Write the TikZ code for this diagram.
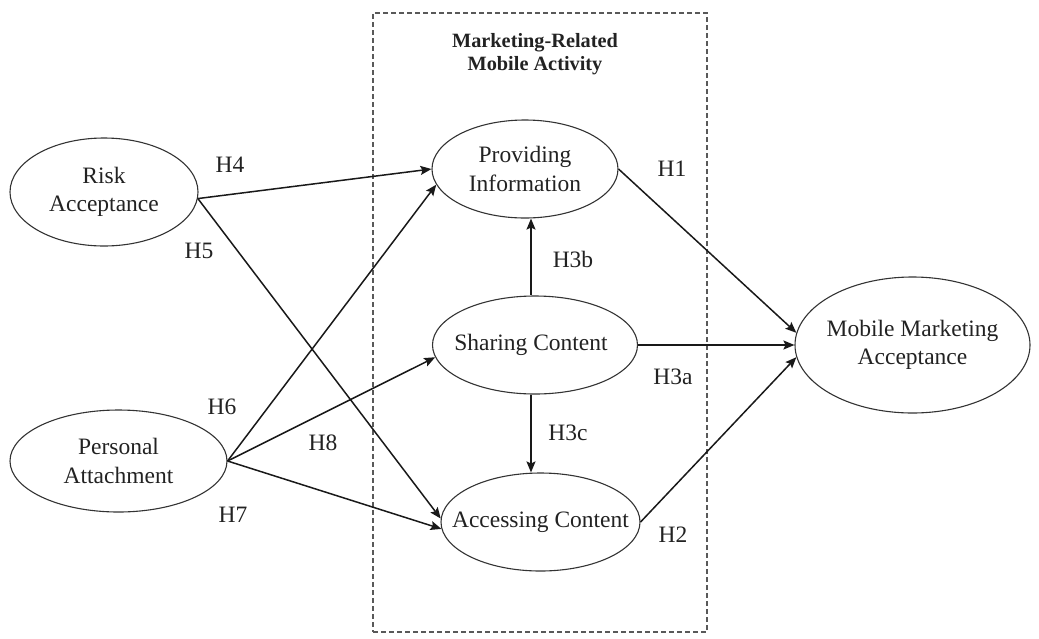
\documentclass[tikz,border=0pt]{standalone}
\usepackage{fontspec}
\setmainfont{Liberation Serif}
\usetikzlibrary{shapes.geometric,arrows.meta,calc}
\definecolor{ink}{HTML}{222222}
\definecolor{edge}{HTML}{333333}
\begin{document}
\begin{tikzpicture}[x=1pt,y=-1pt,
  ell/.style={draw=edge, line width=1.1pt, ellipse, inner sep=0pt},
  txt/.style={text=ink, align=center, font=\fontsize{23.5}{28.5}\selectfont, inner sep=0pt},
  hyp/.style={text=ink, font=\fontsize{23.5}{28}\selectfont, inner sep=0pt},
  ttl/.style={text=ink, align=center, font=\fontsize{20.3}{23}\selectfont\bfseries, inner sep=0pt},
  arr/.style={line width=1.5pt, draw=black!90, -{Stealth[length=11pt,width=9pt,inset=2pt]}},
  grpbox/.style={draw=black!65, line width=1.3pt, dash pattern=on 5pt off 3pt, inner sep=0pt}]
\useasboundingbox (0,0) rectangle (1039,638);

% dashed group box
\node[grpbox, minimum width=334pt, minimum height=619pt] (group) at (540,322.5) {};
\node[ttl] (title) at (535,54) {Marketing-Related\\Mobile Activity};

% ellipses
\node[ell, minimum width=188pt, minimum height=108pt] (risk) at (104,192) {};
\node[ell, minimum width=217pt, minimum height=102pt] (pers) at (118.5,461) {};
\node[ell, minimum width=186pt, minimum height=98pt]  (prov) at (525,169) {};
\node[ell, minimum width=205pt, minimum height=98pt]  (share) at (535,345) {};
\node[ell, minimum width=199pt, minimum height=98pt]  (acc) at (540.5,522) {};
\node[ell, minimum width=235pt, minimum height=136pt] (mma) at (912.5,345) {};

% texts
\node[txt] (riskT)  at (risk)  {Risk\\Acceptance};
\node[txt] (persT)  at (pers)  {Personal\\Attachment};
\node[txt] (provT)  at (prov)  {Providing\\Information};
\node[txt] (shareT) at (531,345) {Sharing Content};
\node[txt] (accT)   at (acc)   {Accessing Content};
\node[txt] (mmaT)   at (mma)   {Mobile Marketing\\Acceptance};

% arrows
\draw[arr] (risk.-4) -- (prov.west);
\draw[arr] (risk.-4) -- (acc.178);
\draw[arr] (pers.east) -- (prov.190);
\draw[arr] (pers.east) -- (share.187);
\draw[arr] (pers.east) -- (acc.184);
\draw[arr] ([xshift=-4pt]share.north) -- ([xshift=-4pt]share.north |- prov.south);
\draw[arr] ([xshift=-4pt]share.south) -- ([xshift=-4pt]share.south |- acc.north);
\draw[arr] (prov.east) -- (mma.174);
\draw[arr] (share.east) -- (mma.west);
\draw[arr] (acc.east) -- (mma.186);

% hypothesis labels
\node[hyp] (h4)  at (230,165) {H4};
\node[hyp] (h5)  at (199,251) {H5};
\node[hyp] (h6)  at (222,407) {H6};
\node[hyp] (h7)  at (233,515) {H7};
\node[hyp] (h8)  at (323,443) {H8};
\node[hyp] (h1)  at (672,169) {H1};
\node[hyp] (h3b) at (573,259) {H3b};
\node[hyp] (h3a) at (673,377) {H3a};
\node[hyp] (h3c) at (568,433) {H3c};
\node[hyp] (h2)  at (673,535) {H2};
\end{tikzpicture}
\end{document}
